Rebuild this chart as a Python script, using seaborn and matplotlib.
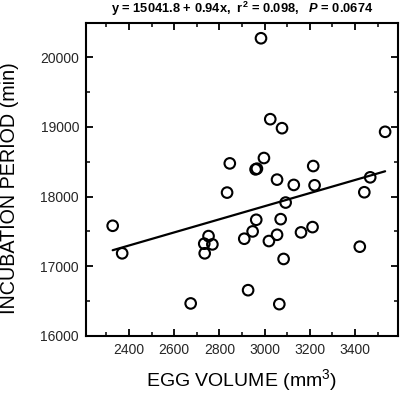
import matplotlib
matplotlib.use("Agg")
import matplotlib.pyplot as plt
import seaborn as sns
import numpy as np
import pandas as pd
from matplotlib.ticker import MultipleLocator

egg_volume = [2328, 2370, 2673, 2733, 2752, 2769, 2735, 2834, 2846, 2910,
              2947, 2963, 2960, 2966, 2997, 2927, 3019, 3055, 3055, 3071,
              3065, 3084, 3093, 3129, 3161, 3212, 3221, 3215, 3421, 3441,
              3467, 3533, 2984, 3025, 3077]
incubation = [17581, 17186, 16467, 17324, 17433, 17314, 17186, 18057, 18476, 17395,
              17500, 17667, 18390, 18400, 18553, 16657, 17362, 18243, 17452, 17676,
              16457, 17105, 17914, 18167, 17486, 17562, 18162, 18438, 17281, 18062,
              18276, 18929, 20271, 19110, 18981]
intercept = 15041.8
slope = 0.94
title_text = r'y = 15041.8 + 0.94x,  r$^{\mathbf{2}}$ = 0.098,   $\mathbfit{P}$ = 0.0674'

sns.set_theme(style="white")
plt.rcParams['font.family'] = ['Liberation Sans', 'DejaVu Sans']
plt.rcParams['mathtext.fontset'] = 'custom'
plt.rcParams['mathtext.rm'] = 'Liberation Sans'
plt.rcParams['mathtext.it'] = 'Liberation Sans:italic'
plt.rcParams['mathtext.bf'] = 'Liberation Sans:bold'
plt.rcParams['mathtext.bfit'] = 'Liberation Sans:italic:bold'

fig = plt.figure(figsize=(4.0, 3.95), dpi=100)
ax = fig.add_axes([0.215, 0.1494, 0.78, 0.7924])

df = pd.DataFrame({"vol": egg_volume, "inc": incubation})
sns.scatterplot(data=df, x="vol", y="inc", ax=ax, marker='o', s=58,
                facecolor='none', edgecolor='black', linewidth=1.5, zorder=3)
for c in ax.collections:
    c.set_facecolor('none')

fx = np.array([min(egg_volume), max(egg_volume)], dtype=float)
fit = pd.DataFrame({"vol": fx, "inc": intercept + slope * fx})
sns.lineplot(data=fit, x="vol", y="inc", ax=ax, color='black', linewidth=1.6, zorder=2)

ax.set_xlim(2210, 3590)
ax.set_ylim(16000, 20490)
ax.xaxis.set_major_locator(MultipleLocator(200))
ax.xaxis.set_minor_locator(MultipleLocator(100))
ax.yaxis.set_major_locator(MultipleLocator(1000))
ax.yaxis.set_minor_locator(MultipleLocator(500))
ax.set_xticks([2400, 2600, 2800, 3000, 3200, 3400])
ax.tick_params(which='both', direction='in', top=True, right=True,
               bottom=True, left=True, color='black', labelsize=10, pad=5)
ax.tick_params(which='major', length=5, width=1.3)
ax.tick_params(which='minor', length=3, width=1.1)
for s in ax.spines.values():
    s.set_color('black')
    s.set_linewidth(1.5)

ax.set_xlabel(r'EGG VOLUME (mm$^3$)', fontsize=14, labelpad=7, color='black')
ax.set_ylabel('INCUBATION PERIOD (min)', fontsize=14.2, color='black')
ax.yaxis.set_label_coords(-0.215, 0.471)
fig.text(0.605, 0.977, title_text, ha='center', va='center', fontsize=9.3,
         fontweight='bold', color='black')

fig.savefig("out.png", dpi=100)
